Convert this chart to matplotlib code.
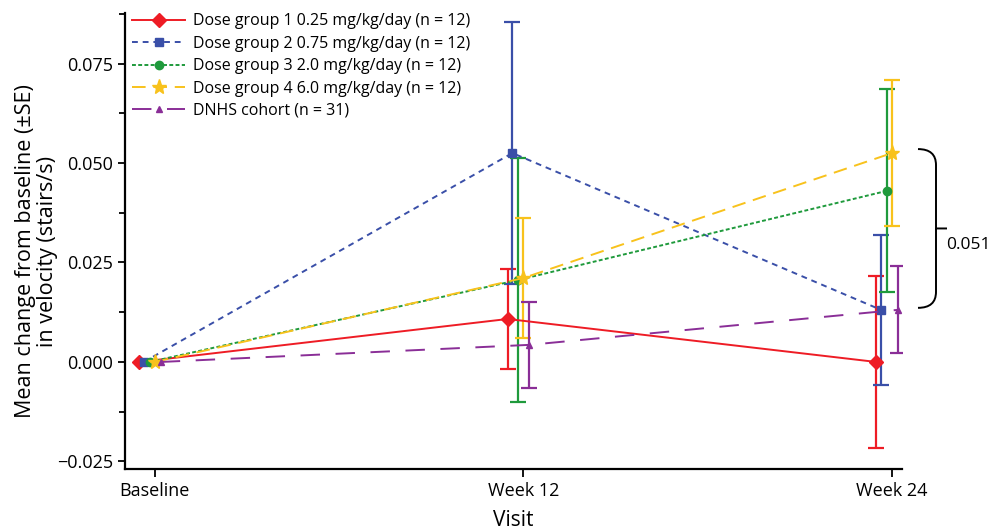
#!/usr/bin/env python3
"""Mean change from baseline in stair-climb velocity by dose group."""

import matplotlib

matplotlib.use("Agg")
import matplotlib.pyplot as plt
import numpy as np
from matplotlib.path import Path
from matplotlib.patches import PathPatch
import matplotlib.transforms as mtransforms

plt.rcParams["font.family"] = ["Open Sans", "DejaVu Sans"]

# ----------------------------- data -----------------------------------------
visits = ["Baseline", "Week 12", "Week 24"]

labels = [
    "Dose group 1 0.25 mg/kg/day (n = 12)",
    "Dose group 2 0.75 mg/kg/day (n = 12)",
    "Dose group 3 2.0 mg/kg/day (n = 12)",
    "Dose group 4 6.0 mg/kg/day (n = 12)",
    "DNHS cohort (n = 31)",
]

dose1_mean = [0.0, 0.0108, 0.0]
dose1_se = [0.0, 0.0126, 0.0216]
dose2_mean = [0.0, 0.0525, 0.0131]
dose2_se = [0.0, 0.0330, 0.0188]
dose3_mean = [0.0, 0.0206, 0.0430]
dose3_se = [0.0, 0.0306, 0.0255]
dose4_mean = [0.0, 0.0211, 0.0525]
dose4_se = [0.0, 0.0152, 0.0183]
dnhs_mean = [0.0, 0.0043, 0.0131]
dnhs_se = [0.0, 0.0108, 0.0109]

bracket_label = "0.051"

# ---------------------------- styling ---------------------------------------
colors = ["#ee1c25", "#3a4fa8", "#1f9a3c", "#f8c21c", "#8a2e97"]
markers = ["D", "s", "o", "*", "^"]
marker_sizes = [7, 6, 6, 11, 5]
linestyles = ["-", (0, (3, 2.5)), (0, (2, 1.2)), (0, (7, 4)), (0, (10, 8))]
offsets = [-0.043, -0.030, -0.014, 0.0, 0.016]

means = [dose1_mean, dose2_mean, dose3_mean, dose4_mean, dnhs_mean]
ses = [dose1_se, dose2_se, dose3_se, dose4_se, dnhs_se]

fig = plt.figure(figsize=(9.91, 5.32), dpi=100)
ax = fig.add_axes([0.1261, 0.1184, 0.9102 - 0.1261, 0.9756 - 0.1184])

x = np.arange(len(visits))
for i in range(len(labels)):
    xs = x + offsets[i]
    m = np.array(means[i])
    e = np.array(ses[i])
    # error bars only where there is a spread
    keep = e > 0
    ax.errorbar(xs[keep], m[keep], yerr=e[keep], fmt="none", ecolor=colors[i],
                elinewidth=1.6, capsize=6, capthick=1.6, zorder=2)
    ax.plot(xs, m, color=colors[i], linestyle=linestyles[i], linewidth=1.4,
            marker=markers[i], markersize=marker_sizes[i],
            markerfacecolor=colors[i], markeredgecolor=colors[i],
            label=labels[i], zorder=3)

ax.set_xlim(-0.081, 2.027)
ax.set_ylim(-0.0269, 0.0877)
ax.set_xticks(x)
ax.set_xticklabels(visits, fontsize=13)
ax.set_yticks([-0.025, 0.0, 0.025, 0.050, 0.075])
ax.set_yticklabels(["\u22120.025", "0.000", "0.025", "0.050", "0.075"], fontsize=13)
ax.set_yticks(np.arange(-0.0125, 0.088, 0.025), minor=True)
ax.tick_params(axis="both", direction="out", length=5, width=1.3, colors="black")
ax.tick_params(axis="y", which="minor", length=4, width=1.3)
ax.tick_params(axis="x", length=6)

for side in ["top", "right"]:
    ax.spines[side].set_visible(False)
for side in ["left", "bottom"]:
    ax.spines[side].set_linewidth(1.6)

ax.set_xlabel("Visit", fontsize=15, labelpad=7)
ax.set_ylabel("Mean change from baseline (\u00b1SE)\nin velocity (stairs/s)",
              fontsize=15.5, linespacing=1.05)
ax.yaxis.set_label_coords(-0.086, 0.478)

leg = ax.legend(loc="upper left", bbox_to_anchor=(-0.003, 1.02), frameon=False,
                fontsize=11.5, handlelength=3.3, handletextpad=0.5,
                labelspacing=0.4, borderaxespad=0.2, numpoints=1)

# curly bracket between Week 24 groups (right of the axes)
trans = mtransforms.blended_transform_factory(fig.transFigure, ax.transData)
y_top, y_bot = 0.0535, 0.0136
y_mid = (y_top + y_bot) / 2
x0 = 918 / 991
x1 = 936 / 991
x2 = 947 / 991
c = 0.004
verts = [
    (x0, y_top), (x1, y_top), (x1, y_top - c),
    (x1, y_mid + c),
    (x1, y_mid), (x1, y_mid), (x2, y_mid),
    (x1, y_mid), (x1, y_mid), (x1, y_mid - c),
    (x1, y_bot + c),
    (x1, y_bot), (x0, y_bot),
]
codes = [Path.MOVETO, Path.CURVE3, Path.CURVE3,
         Path.LINETO,
         Path.CURVE3, Path.CURVE3, Path.LINETO,
         Path.MOVETO, Path.LINETO, Path.LINETO,
         Path.LINETO,
         Path.CURVE3, Path.CURVE3]
brace = PathPatch(Path(verts, codes), transform=trans, facecolor="none",
                  edgecolor="black", linewidth=1.4, clip_on=False)
fig.add_artist(brace)
fig.text(946 / 991, 1 - 245 / 532, bracket_label, fontsize=12.5, va="center",
         ha="left")

fig.savefig("out.png", dpi=100)
